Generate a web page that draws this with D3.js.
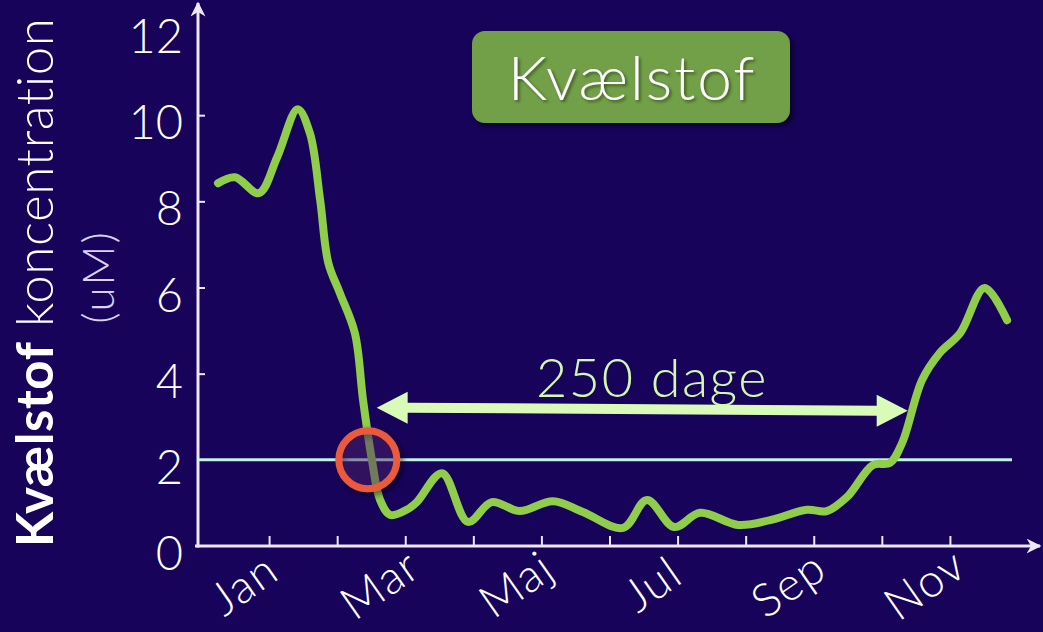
<!DOCTYPE html>
<html>
<head>
<meta charset="utf-8">
<script src="https://cdn.jsdelivr.net/npm/d3@7"></script>
<style>
  html, body { margin: 0; padding: 0; background: #17035a; }
  svg { display: block; }
  text { font-family: Lato, "Open Sans", sans-serif; }
</style>
</head>
<body>
<div class="container"></div>
<script>
// month position (0 = start of Jan) and nitrogen value (uM)
const monthPos = [0.25, 0.50, 0.85, 1.12, 1.42, 1.60, 1.75, 1.87, 2.04, 2.26, 2.38, 2.51, 2.63, 2.78, 3.02, 3.17,
    3.54, 3.92, 4.27, 4.68, 5.17, 5.61, 6.20, 6.55, 6.95, 7.33, 7.89, 8.36, 8.90, 9.19, 9.49, 9.87,
    10.12, 10.30, 10.59, 10.85, 11.15, 11.51, 11.84];
const nitrogen = [8.42, 8.56, 8.19, 9.03, 10.14, 9.58, 8.03, 6.57, 5.87, 4.94, 3.39, 2.00, 1.07, 0.72, 0.84, 1.02,
    1.69, 0.56, 1.02, 0.81, 1.04, 0.79, 0.42, 1.07, 0.44, 0.77, 0.49, 0.60, 0.84, 0.81, 1.14, 1.88,
    1.93, 2.40, 3.85, 4.48, 4.94, 5.99, 5.24];

const monthLabels = ["Jan", "Mar", "Maj", "Jul", "Sep", "Nov"];
const monthLabelIdx = [0, 2, 4, 6, 8, 10];
const monthTicks = [1, 2, 3, 4, 5, 6, 7, 8, 9, 10, 11];
const yTicks = [0, 2, 4, 6, 8, 10, 12];
const threshold = 2;
// annotation: the period below the threshold
const spanStart = [2.58, 3.21], spanEnd = [10.38, 3.14];
const spanLabel = "250 dage";
const crossing = [2.45, 2.0];

const width = 1043, height = 632;

const x = d3.scaleLinear().domain([0, 12]).range([201, 1018]);
const y = d3.scaleLinear().domain([0, 12]).range([546, 29]);

const svg = d3.select(".container")
    .append("svg")
    .attr("width", width)
    .attr("height", height);

const defs = svg.append("defs");

defs.append("marker")
    .attr("id", "axis-head")
    .attr("viewBox", "0 0 10 10")
    .attr("refX", 9).attr("refY", 5)
    .attr("markerWidth", 5).attr("markerHeight", 5)
    .attr("markerUnits", "strokeWidth")
    .attr("orient", "auto")
    .append("path")
    .attr("d", "M0,0 L10,5 L0,10 L3,5 Z")
    .attr("fill", "#ece8f6");

const shadow = defs.append("filter").attr("id", "shadow")
    .attr("x", "-20%").attr("y", "-20%").attr("width", "150%").attr("height", "150%");
shadow.append("feDropShadow")
    .attr("dx", 3).attr("dy", 3).attr("stdDeviation", 3)
    .attr("flood-color", "#000").attr("flood-opacity", 0.55);

const textShadow = defs.append("filter").attr("id", "tshadow");
textShadow.append("feDropShadow")
    .attr("dx", 2).attr("dy", 2).attr("stdDeviation", 1.5)
    .attr("flood-color", "#2a3a10").attr("flood-opacity", 0.7);

// y axis
const yAxis = svg.append("g")
    .attr("transform", `translate(${x(0) - 3},0)`)
    .call(d3.axisLeft(y).tickValues(yTicks).tickSizeInner(-7).tickSizeOuter(0).tickPadding(15));
yAxis.select(".domain").remove();
yAxis.selectAll(".tick line")
    .attr("stroke", "#ece8f6").attr("stroke-width", 2)
    .attr("display", d => (d === 0 || d === 2 || d === 12) ? "none" : null);
yAxis.selectAll(".tick text")
    .attr("fill", "#ffffff")
    .attr("font-size", 47)
    .attr("font-weight", 300)
    .attr("dy", "0.5em");

// x axis ticks
const xAxis = svg.append("g")
    .attr("transform", `translate(0,${y(0)})`)
    .call(d3.axisBottom(x).tickValues(monthTicks).tickSizeInner(-10).tickSizeOuter(0).tickFormat(""));
xAxis.select(".domain").remove();
xAxis.selectAll(".tick line").attr("stroke", "#ece8f6").attr("stroke-width", 2);

// axis lines with arrow heads
svg.append("line")
    .attr("x1", x(0) - 3).attr("y1", y(0) + 1.5)
    .attr("x2", x(0) - 3).attr("y2", 3)
    .attr("stroke", "#ece8f6").attr("stroke-width", 3)
    .attr("marker-end", "url(#axis-head)");
svg.append("line")
    .attr("x1", x(0) - 6).attr("y1", y(0))
    .attr("x2", 1040).attr("y2", y(0))
    .attr("stroke", "#ece8f6").attr("stroke-width", 3)
    .attr("marker-end", "url(#axis-head)");

// month labels
svg.append("g")
    .selectAll("text")
    .data(monthLabels)
    .enter()
    .append("text")
    .attr("transform", (d, i) => `translate(${x(monthLabelIdx[i] + 0.5) + 8},${583}) rotate(-35)`)
    .attr("text-anchor", "middle")
    .attr("dominant-baseline", "central")
    .attr("fill", "#ffffff")
    .attr("font-size", 46)
    .attr("font-weight", 300)
    .attr("letter-spacing", 1.5)
    .text(d => d);

// y axis title
const yTitle = svg.append("text")
    .attr("transform", `translate(53,547) rotate(-90)`)
    .attr("fill", "#ffffff")
    .attr("font-size", 51)
    .attr("letter-spacing", 0.6);
yTitle.append("tspan").attr("font-weight", 700).text("Kvælstof");
yTitle.append("tspan").attr("font-weight", 300).text(" koncentration");

svg.append("text")
    .attr("transform", `translate(114,277) rotate(-90)`)
    .attr("text-anchor", "middle")
    .attr("fill", "#d9d2f0")
    .attr("font-size", 44)
    .attr("font-weight", 300)
    .attr("letter-spacing", 2)
    .text("(uM)");

// threshold line
svg.append("line")
    .attr("x1", x(0) - 3).attr("x2", 1012)
    .attr("y1", y(threshold)).attr("y2", y(threshold))
    .attr("stroke", "#c2f2e2").attr("stroke-width", 3);

// nitrogen curve
const line = d3.line()
    .x((d, i) => x(monthPos[i]))
    .y(d => y(d))
    .curve(d3.curveCatmullRom.alpha(0.5));

svg.append("path")
    .datum(nitrogen)
    .attr("d", line)
    .attr("fill", "none")
    .attr("stroke", "#8fcd4a")
    .attr("stroke-width", 8)
    .attr("stroke-linecap", "round")
    .attr("stroke-linejoin", "round");

// crossing marker
svg.append("circle")
    .attr("cx", x(crossing[0])).attr("cy", y(crossing[1]))
    .attr("r", 29)
    .attr("fill", "rgba(90,40,120,0.35)")
    .attr("stroke", "#ec5a3c")
    .attr("stroke-width", 7)
    .attr("filter", "url(#shadow)");

// double arrow for the 250 days
const ax1 = x(spanStart[0]), ay1 = y(spanStart[1]);
const ax2 = x(spanEnd[0]), ay2 = y(spanEnd[1]);
const headLen = 31, headHalf = 16, shaft = 5;
const arrowColor = "#d8fcb8";
svg.append("path")
    .attr("d", [
        `M${ax1},${ay1}`,
        `L${ax1 + headLen},${ay1 - headHalf}`,
        `L${ax1 + headLen},${ay1 - shaft}`,
        `L${ax2 - headLen},${ay2 - shaft}`,
        `L${ax2 - headLen},${ay2 - headHalf}`,
        `L${ax2},${ay2}`,
        `L${ax2 - headLen},${ay2 + headHalf}`,
        `L${ax2 - headLen},${ay2 + shaft}`,
        `L${ax1 + headLen},${ay1 + shaft}`,
        `L${ax1 + headLen},${ay1 + headHalf}`,
        "Z"
    ].join(" "))
    .attr("fill", arrowColor);

svg.append("text")
    .attr("x", 652)
    .attr("y", 397)
    .attr("text-anchor", "middle")
    .attr("fill", "#d4f8b0")
    .attr("font-size", 54)
    .attr("font-weight", 300)
    .attr("letter-spacing", 1.5)
    .text(spanLabel);

// title box
svg.append("rect")
    .attr("x", 472).attr("y", 31)
    .attr("width", 318).attr("height", 92)
    .attr("rx", 13)
    .attr("fill", "#72a04a")
    .attr("filter", "url(#shadow)");
svg.append("text")
    .attr("x", 632).attr("y", 100)
    .attr("text-anchor", "middle")
    .attr("fill", "#ffffff")
    .attr("font-size", 62)
    .attr("font-weight", 300)
    .attr("letter-spacing", 2)
    .attr("filter", "url(#tshadow)")
    .text("Kvælstof");
</script>
</body>
</html>
